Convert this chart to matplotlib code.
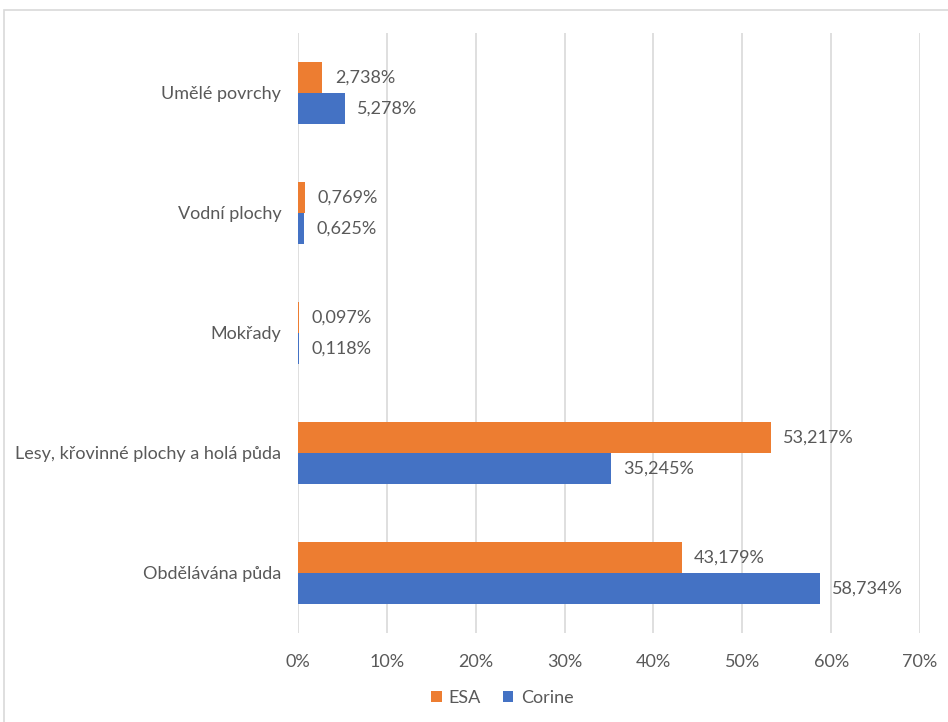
import matplotlib.pyplot as plt
import numpy as np
from matplotlib.patches import Patch, Rectangle
from matplotlib.ticker import FuncFormatter

categories = ['Obdělávána půda', 'Lesy, křovinné plochy a holá půda', 'Mokřady',
              'Vodní plochy', 'Umělé povrchy']
esa = [43.179, 53.217, 0.097, 0.769, 2.738]
corine = [58.734, 35.245, 0.118, 0.625, 5.278]

orange = '#ED7D31'
blue = '#4472C4'
text_col = '#595959'

plt.rcParams['font.family'] = ['Lato', 'DejaVu Sans']

fig = plt.figure(figsize=(9.48, 7.22), dpi=100)
ax = fig.add_axes([298 / 948, 1 - 633 / 722, 622 / 948, 600 / 722])

# rámeček grafu
fig.patches.append(Rectangle((4 / 948, -0.01), 1.0, 1 - 10 / 722 + 0.01,
                             transform=fig.transFigure, fill=False,
                             edgecolor='#D9D9D9', linewidth=1.2))

y = np.arange(len(categories))
h = 0.26
ax.barh(y + h / 2, esa, height=h, color=orange, label='ESA', zorder=3)
ax.barh(y - h / 2, corine, height=h, color=blue, label='Corine', zorder=3)


def fmt(v):
    return f'{v:.3f}'.replace('.', ',') + '%'


fs = 13
for yi, v in zip(y, esa):
    ax.annotate(fmt(v), (v, yi + h / 2), xytext=(9, 0), textcoords='offset points',
                va='center', ha='left', fontsize=fs, color=text_col)
for yi, v in zip(y, corine):
    ax.annotate(fmt(v), (v, yi - h / 2), xytext=(9, 0), textcoords='offset points',
                va='center', ha='left', fontsize=fs, color=text_col)

ax.set_xlim(0, 70)
ax.set_ylim(-0.5, len(categories) - 0.5)
ax.set_xticks(np.arange(0, 71, 10))
ax.xaxis.set_major_formatter(FuncFormatter(lambda v, _: f'{int(v)}%'))
ax.set_yticks(y)
ax.set_yticklabels(categories)
ax.tick_params(axis='both', length=0, labelsize=fs, labelcolor=text_col)
ax.tick_params(axis='y', pad=12)
ax.tick_params(axis='x', pad=15)
ax.grid(axis='x', color='#D9D9D9', linewidth=1.2, zorder=0)
for s in ax.spines.values():
    s.set_visible(False)

handles = [Patch(facecolor=orange, label='ESA'), Patch(facecolor=blue, label='Corine')]
fig.legend(handles=handles, loc='center', bbox_to_anchor=(502 / 948, 1 - 698 / 722),
           ncol=2, frameon=False, fontsize=fs, handlelength=0.6, handleheight=0.6,
           handletextpad=0.4, columnspacing=1.2, labelcolor=text_col)

fig.savefig('out.png', dpi=100)
